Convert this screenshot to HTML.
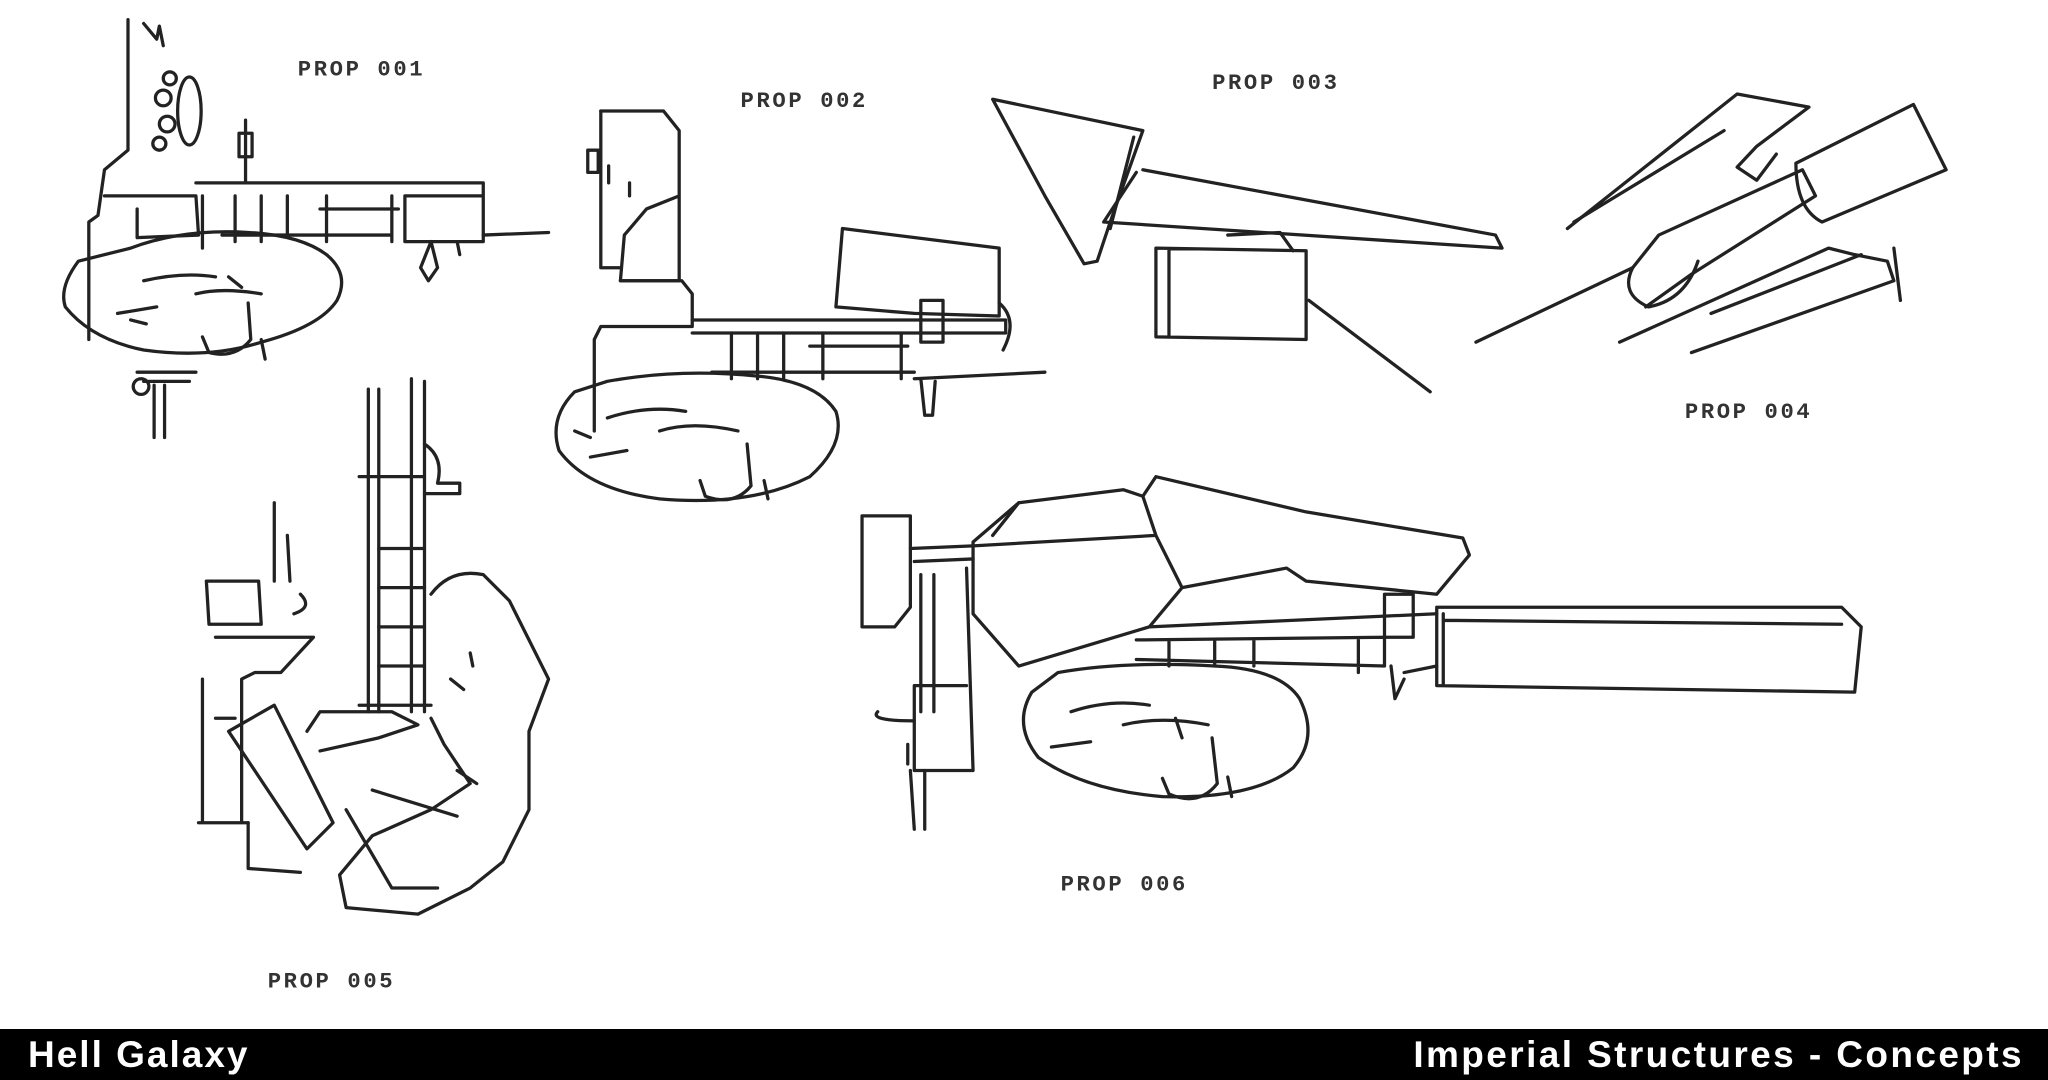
<!DOCTYPE html>
<html><head><meta charset="utf-8"><style>
html,body{margin:0;padding:0;background:#fff;width:2048px;height:1080px;overflow:hidden}
svg{position:absolute;left:0;top:0}
.bar{position:absolute;left:0;top:1029px;width:2048px;height:51px;background:#000;color:#fff;font-family:"Liberation Sans",sans-serif;font-weight:bold;font-size:37px;line-height:51px;letter-spacing:2px}
.l{position:absolute;left:28px;top:0}
.r{position:absolute;right:24px;top:0;letter-spacing:2.4px}
</style></head><body>
<svg width="2048" height="1080" viewBox="0 0 1568 827" preserveAspectRatio="none">
<g fill="none" stroke="#222" stroke-width="2.5" stroke-linejoin="round" stroke-linecap="round">
<!-- PROP 001 -->
<path d="M98 15 L98 115 L80 130 L75 165 L68 170 L68 260"/>
<path d="M110 18 L120 30 L122 20 L125 35"/>
<ellipse cx="145" cy="85" rx="9" ry="26"/>
<circle cx="130" cy="60" r="5"/><circle cx="125" cy="75" r="6"/><circle cx="128" cy="95" r="6"/><circle cx="122" cy="110" r="5"/>
<path d="M80 150 L150 150 L152 180 L105 182 L105 160"/>
<path d="M150 140 L370 140 L370 150 L310 150 L310 185 L370 185 L370 150"/>
<path d="M155 150 L155 190 M180 150 L180 185 M200 150 L200 185 M220 150 L220 180 M250 150 L250 185 M300 150 L300 185 M170 180 L300 180 M245 160 L305 160"/>
<path d="M370 180 L420 178 M330 185 L322 205 L328 215 L335 205 L330 185 M350 185 L352 195"/>
<path d="M188 92 L188 140 M183 102 L193 102 L193 120 L183 120Z"/>
<path d="M60 200 Q45 220 50 235 Q70 260 110 268 Q160 275 200 262 Q245 250 258 230 Q268 210 250 195 Q230 180 190 178 Q140 175 100 190 Z"/>
<path d="M110 215 Q140 208 165 212 M90 240 L120 235 M150 225 Q170 220 200 225 M175 212 L185 220 M100 245 L112 248"/>
<path d="M190 232 L192 260 Q180 275 160 270 L155 258 M200 260 L203 275"/>
<path d="M105 285 L150 285 M110 292 L145 292 M118 295 L118 335 M126 295 L126 335"/>
<circle cx="108" cy="296" r="6"/>
<!-- PROP 002 -->
<path d="M460 85 L508 85 L520 100 L520 215 L475 215 L478 180 L495 160 L520 150"/>
<path d="M460 85 L460 205 L475 205 M450 115 L458 115 L458 132 L450 132Z M466 127 L466 140 M482 140 L482 150"/>
<path d="M475 215 L522 215 L530 225 L530 250 L460 250 L455 260 L455 330"/>
<path d="M645 175 L765 190 L765 242 L700 240 L640 235 Z"/>
<path d="M530 245 L770 245 L770 255 L530 255 M705 230 L722 230 L722 262 L705 262Z"/>
<path d="M560 255 L560 290 M580 255 L580 290 M600 255 L600 290 M630 255 L630 290 M690 255 L690 290 M545 285 L700 285 M620 265 L695 265"/>
<path d="M765 232 Q780 245 768 268 M700 290 L800 285 M705 290 L708 318 L714 318 L716 292"/>
<path d="M440 300 Q420 320 428 345 Q450 375 505 382 Q575 388 620 365 Q648 340 640 315 Q625 292 580 288 Q520 282 465 292 Z"/>
<path d="M465 320 Q495 310 525 315 M452 350 L480 345 M505 330 Q530 322 565 330 M440 330 L452 335"/>
<path d="M572 340 L575 372 Q562 388 540 380 L536 368 M585 368 L588 382"/>
<!-- PROP 003 -->
<path d="M760 76 L875 100 L850 170 L840 200 L830 202 L800 150 Z"/>
<path d="M868 105 L850 175"/>
<path d="M875 130 L1145 180 L1150 190 L845 170 L870 132"/>
<path d="M885 190 L1000 192 L1000 260 L885 258 Z M895 192 L895 258"/>
<path d="M940 180 L980 178 L990 192 M1002 230 L1095 300"/>
<!-- PROP 004 -->
<path d="M1200 175 L1330 72 L1385 82 L1345 112 L1330 128 L1345 138 L1360 118"/>
<path d="M1320 100 L1205 170"/>
<path d="M1130 262 L1250 205 L1270 180 L1380 130 L1390 150 L1295 210 L1260 235"/>
<path d="M1250 205 Q1240 225 1262 235 Q1290 230 1300 200"/>
<path d="M1375 125 L1465 80 L1490 130 L1395 170 Q1375 160 1375 125"/>
<path d="M1240 262 L1400 190 L1420 195 L1445 200 L1450 215 L1295 270"/>
<path d="M1310 240 L1425 195 M1450 190 L1455 230"/>
<!-- PROP 005 -->
<path d="M282 298 L282 545 M290 298 L290 545 M315 290 L315 545 M325 292 L325 545"/>
<path d="M275 365 L325 365 M290 420 L325 420 M290 450 L325 450 M290 480 L325 480 M290 510 L325 510 M275 540 L330 540"/>
<path d="M325 340 Q340 350 335 370 L352 370 L352 378 L325 378"/>
<path d="M330 455 Q345 435 370 440 L390 460 L405 490 L420 520 L405 560 L405 620 L385 660 L360 680 L320 700 L265 695 L260 670 L285 640 L330 620 L360 600 L340 570 L330 550"/>
<path d="M345 520 L355 528 M360 500 L362 510 M350 590 L365 600"/>
<path d="M158 445 L198 445 L200 478 L160 478 Z M210 385 L210 445 M220 410 L222 445 M230 455 Q240 465 225 470"/>
<path d="M165 488 L240 488 L215 515 L195 515 L185 520 L185 630 M155 520 L155 630 M152 630 L190 630 M165 550 L180 550"/>
<path d="M175 560 L210 540 L255 630 L235 650 Z M190 630 L190 665 L230 668"/>
<path d="M235 560 L245 545 L300 545 L320 555 L290 565 L245 575 M265 620 L300 680 L335 680 M285 605 L350 625"/>
<!-- PROP 006 -->
<path d="M660 395 L697 395 L697 465 L685 480 L660 480 Z"/>
<path d="M697 420 L745 418 M700 430 L745 428 M705 440 L705 545 M715 440 L715 545 M740 435 L745 590 L700 590 L700 525 L740 525"/>
<path d="M745 415 L780 385 L860 375 L875 380 L885 365 L1000 392 L1120 412 L1125 425 L1100 455 L1000 445 L985 435 L905 450 L880 480 L780 510 L745 470 Z"/>
<path d="M875 380 L885 410 L905 450 M745 418 L885 410 M780 385 L760 410"/>
<path d="M880 480 L1100 470 M870 490 L1060 488 L1060 510 L870 505 M895 490 L895 510 M930 490 L930 510 M960 490 L960 510 M1040 490 L1040 515"/>
<path d="M1060 455 L1082 455 L1082 488 L1060 488 Z M1065 510 L1068 535 L1075 520 M1075 515 L1100 510"/>
<path d="M1100 465 L1410 465 L1425 480 L1420 530 L1100 525 Z M1105 475 L1410 478 M1105 470 L1105 525"/>
<path d="M790 530 Q775 555 795 580 Q830 605 890 610 Q960 612 990 588 Q1010 565 995 535 Q980 512 930 510 Q860 506 810 515 Z"/>
<path d="M820 545 Q850 535 880 540 M805 572 L835 568 M860 555 Q890 548 925 555 M900 550 L905 565"/>
<path d="M928 565 L932 600 Q918 618 895 608 L890 596 M940 595 L943 610"/>
<path d="M672 545 Q665 552 700 552 M695 570 L695 585 M697 590 L700 635 M708 590 L708 635"/>
</g>
<g fill="#333" font-family="Liberation Mono, monospace" font-size="17" font-weight="bold" letter-spacing="2">
<text x="228" y="58">PROP 001</text>
<text x="567" y="82">PROP 002</text>
<text x="928" y="68">PROP 003</text>
<text x="1290" y="320">PROP 004</text>
<text x="205" y="756">PROP 005</text>
<text x="812" y="682">PROP 006</text>
</g>
</svg>
<div class="bar"><span class="l">Hell Galaxy</span><span class="r">Imperial Structures - Concepts</span></div>
</body></html>
